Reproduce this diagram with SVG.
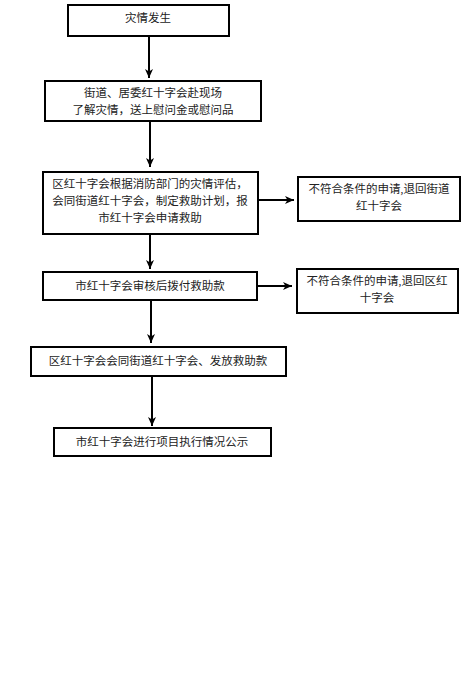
<svg xmlns="http://www.w3.org/2000/svg" width="463" height="684" viewBox="0 0 463 684">
<defs>
<style>
.box{fill:#fff;stroke:#000;stroke-width:2}
.t{font-family:"Liberation Serif","Noto Sans CJK SC",serif;font-size:11.5px;fill:#222;text-anchor:middle;dominant-baseline:central}
.c{stroke:#000;stroke-width:2;fill:none}
</style>
<marker id="ah" markerUnits="userSpaceOnUse" markerWidth="10" markerHeight="10" viewBox="0 0 10 10" refX="9" refY="5" orient="auto">
<path d="M0,1 L9,5 L0,9 L2.5,5 z" fill="#000"/>
</marker>
</defs>
<rect width="463" height="684" fill="#fff"/>
<g id="connectors">
<line class="c" x1="149" y1="36" x2="149" y2="78" marker-end="url(#ah)"/>
<line class="c" x1="150" y1="121" x2="150" y2="167" marker-end="url(#ah)"/>
<line class="c" x1="258" y1="200" x2="294" y2="200" marker-end="url(#ah)"/>
<line class="c" x1="150" y1="234" x2="150" y2="269" marker-end="url(#ah)"/>
<line class="c" x1="258" y1="286" x2="292" y2="286" marker-end="url(#ah)"/>
<line class="c" x1="151" y1="300" x2="151" y2="343" marker-end="url(#ah)"/>
<line class="c" x1="152" y1="376" x2="152" y2="426" marker-end="url(#ah)"/>
</g>
<g id="n1">
<rect class="box" x="68" y="5" width="161" height="31"/>
<text class="t" x="148" y="18">灾情发生</text>
</g>
<g id="n2">
<rect class="box" x="45" y="81" width="216" height="40"/>
<text class="t" x="153" y="93">街道、居委红十字会赴现场</text>
<text class="t" x="153" y="110">了解灾情，送上慰问金或慰问品</text>
</g>
<g id="n3">
<rect class="box" x="43" y="172" width="215" height="62"/>
<text class="t" x="150" y="184">区红十字会根据消防部门的灾情评估，</text>
<text class="t" x="150" y="201">会同街道红十字会，制定救助计划，报</text>
<text class="t" x="150" y="218">市红十字会申请救助</text>
</g>
<g id="n4">
<rect class="box" x="298" y="177" width="162" height="44"/>
<text class="t" x="379" y="189">不符合条件的申请,退回街道</text>
<text class="t" x="379" y="206">红十字会</text>
</g>
<g id="n5">
<rect class="box" x="43" y="272" width="214" height="28"/>
<text class="t" x="150" y="286">市红十字会审核后拨付救助款</text>
</g>
<g id="n6">
<rect class="box" x="297" y="269" width="161" height="44"/>
<text class="t" x="377" y="281">不符合条件的申请,退回区红</text>
<text class="t" x="377" y="298">十字会</text>
</g>
<g id="n7">
<rect class="box" x="31" y="347" width="255" height="29"/>
<text class="t" x="158" y="361">区红十字会会同街道红十字会、发放救助款</text>
</g>
<g id="n8">
<rect class="box" x="54" y="428" width="217" height="28"/>
<text class="t" x="162" y="442">市红十字会进行项目执行情况公示</text>
</g>
</svg>
